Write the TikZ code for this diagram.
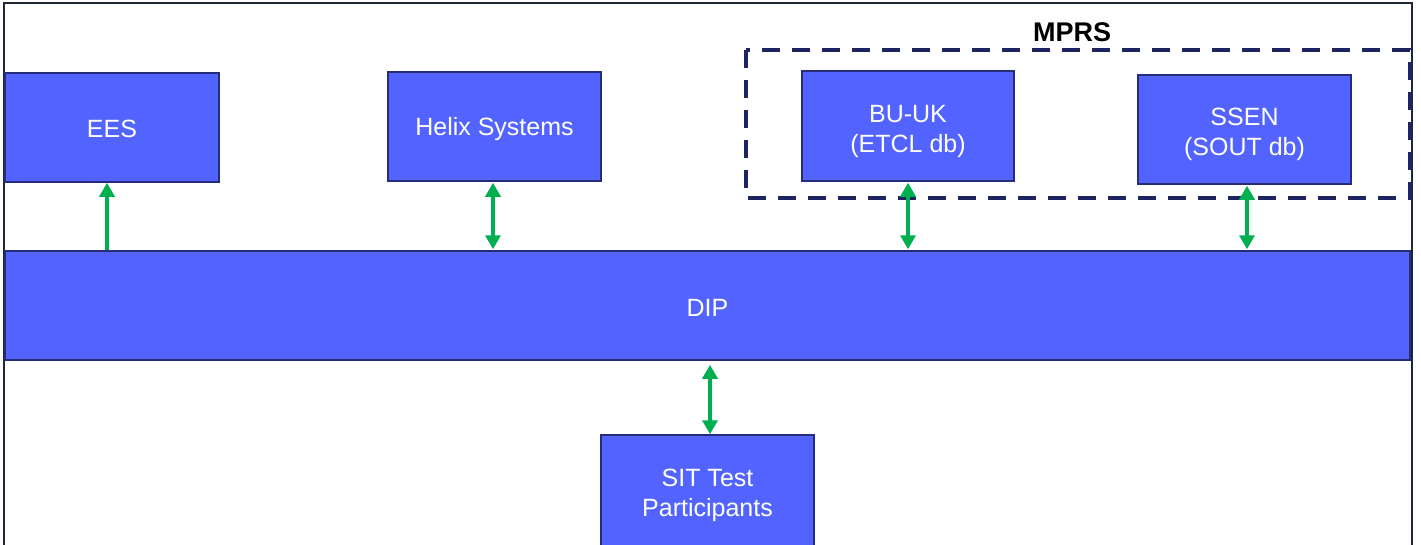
\documentclass[tikz,border=0pt]{standalone}
\usepackage{fontspec}
\setmainfont{Liberation Sans}
\usetikzlibrary{arrows.meta}
\definecolor{boxfill}{RGB}{82,99,255}
\definecolor{boxline}{RGB}{38,44,120}
\definecolor{dashcol}{RGB}{30,36,96}
\definecolor{framecol}{RGB}{28,38,52}
\definecolor{arrowcol}{RGB}{0,176,80}
\tikzset{
  sysbox/.style={draw=boxline, line width=1.5pt, fill=boxfill, inner sep=0pt},
  boxtext/.style={text=white, align=center, font=\fontsize{25}{30}\selectfont, inner sep=0pt},
  link/.style={draw=arrowcol, line width=4pt, -{Triangle[width=15pt,length=14pt]}},
  dlink/.style={draw=arrowcol, line width=4pt, {Triangle[width=15pt,length=14pt]}-{Triangle[width=15pt,length=14pt]}},
}
\begin{document}
\begin{tikzpicture}[x=1pt,y=-1pt]
\useasboundingbox (0,0) rectangle (1421,544);
\clip (0,0) rectangle (1421,544);
\fill[white] (0,0) rectangle (1421,544);
% outer frame
\draw[framecol, line width=2pt] (4,3) rectangle (1412,600);
% MPRS dashed group
\draw[dashcol, line width=4pt, dash pattern=on 18pt off 12pt] (746,50) rectangle (1410,198);
\node[font=\fontsize{27}{30}\selectfont\bfseries, text=black] (mprs) at (1072,32) {MPRS};
% boxes
\node[sysbox, minimum width=214pt, minimum height=109pt] (ees) at (112,127.5) {};
\node[sysbox, minimum width=213pt, minimum height=109pt] (helix) at (494.5,126.5) {};
\node[sysbox, minimum width=212pt, minimum height=110pt] (buuk) at (908,126) {};
\node[sysbox, minimum width=213pt, minimum height=109pt] (ssen) at (1244.5,129.5) {};
\node[sysbox, minimum width=1405pt, minimum height=109pt] (dip) at (707.5,305.5) {};
\node[sysbox, minimum width=213pt, minimum height=114pt] (sit) at (707.5,492) {};
% texts
\node[boxtext] (eest) at ([yshift=-1pt]ees.center) {EES};
\node[boxtext] (helixt) at ([yshift=-3pt]helix.center) {Helix Systems};
\node[boxtext] (buukt) at ([yshift=-5pt]buuk.center) {BU-UK\\(ETCL db)};
\node[boxtext] (ssent) at ([yshift=-4.5pt]ssen.center) {SSEN\\(SOUT db)};
\node[boxtext] (dipt) at ([yshift=-2pt]dip.center) {DIP};
\node[boxtext] (sitt) at ([yshift=-3.5pt]sit.center) {SIT Test\\Participants};
% connectors
\draw[link] (dip.north -| 107,0) -- (ees.south -| 107,0);
\draw[dlink] ([yshift=-1pt]helix.south -| 493,0) -- ([yshift=1pt]dip.north -| 493,0);
\draw[dlink] ([yshift=-1pt]buuk.south -| 908,0) -- ([yshift=1pt]dip.north -| 908,0);
\draw[dlink] ([yshift=-1pt]ssen.south -| 1247,0) -- ([yshift=1pt]dip.north -| 1247,0);
\draw[dlink] ([yshift=-4pt]dip.south -| 710,0) -- ([yshift=0pt]sit.north -| 710,0);
\end{tikzpicture}
\end{document}
